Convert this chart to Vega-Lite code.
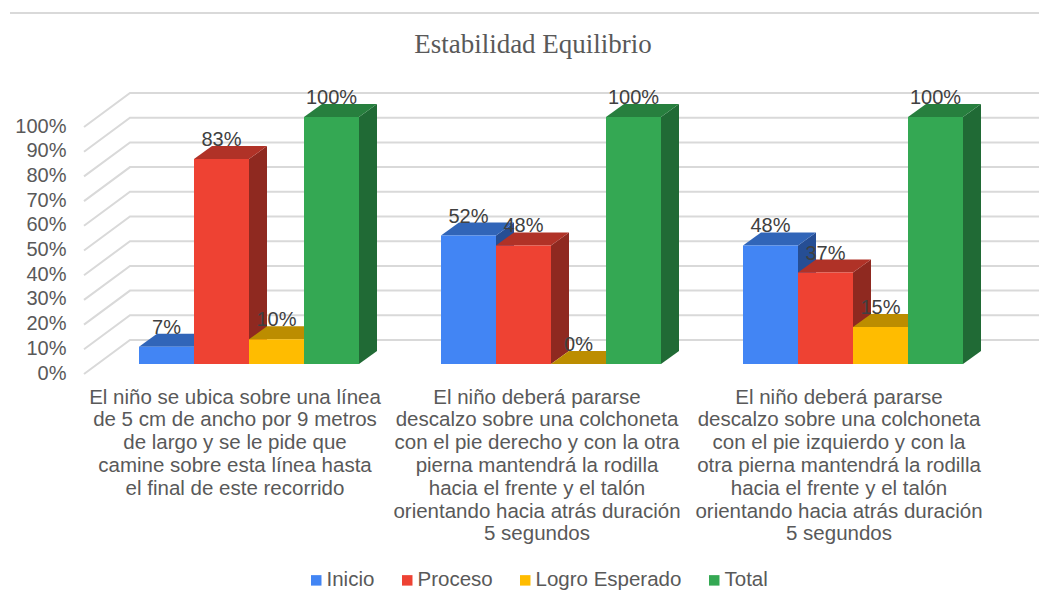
{
"$schema":"https://vega.github.io/schema/vega-lite/v6.json",
"width":906,"height":247,
"autosize":{"type":"none"},
"padding":{"left":98,"top":126,"right":35,"bottom":217},
"background":"white",
"view":{"stroke":null},
"config":{"axis":{"labelOverlap":false},"axisY":{"tickCount":11,"labelOverlap":false}},
"title":{"text":"Estabilidad Equilibrio","anchor":"middle","dx":-18,"offset":-50,"font":"Liberation Serif","fontSize":27,"fontWeight":"normal","color":"#595959"},
"datasets":{
"rows":[
{"P":"El niño se ubica sobre una línea|de 5 cm de ancho por 9 metros|de largo y se le pide que|camine sobre esta línea hasta|el final de este recorrido","Serie":"Inicio","Valor":0.07},
{"P":"El niño se ubica sobre una línea|de 5 cm de ancho por 9 metros|de largo y se le pide que|camine sobre esta línea hasta|el final de este recorrido","Serie":"Proceso","Valor":0.83},
{"P":"El niño se ubica sobre una línea|de 5 cm de ancho por 9 metros|de largo y se le pide que|camine sobre esta línea hasta|el final de este recorrido","Serie":"Logro Esperado","Valor":0.10},
{"P":"El niño se ubica sobre una línea|de 5 cm de ancho por 9 metros|de largo y se le pide que|camine sobre esta línea hasta|el final de este recorrido","Serie":"Total","Valor":1.0},
{"P":"El niño deberá pararse|descalzo sobre una colchoneta|con el pie derecho y con la otra|pierna mantendrá la rodilla|hacia el frente y el talón|orientando hacia atrás duración|5 segundos","Serie":"Inicio","Valor":0.52},
{"P":"El niño deberá pararse|descalzo sobre una colchoneta|con el pie derecho y con la otra|pierna mantendrá la rodilla|hacia el frente y el talón|orientando hacia atrás duración|5 segundos","Serie":"Proceso","Valor":0.48},
{"P":"El niño deberá pararse|descalzo sobre una colchoneta|con el pie derecho y con la otra|pierna mantendrá la rodilla|hacia el frente y el talón|orientando hacia atrás duración|5 segundos","Serie":"Logro Esperado","Valor":0.0},
{"P":"El niño deberá pararse|descalzo sobre una colchoneta|con el pie derecho y con la otra|pierna mantendrá la rodilla|hacia el frente y el talón|orientando hacia atrás duración|5 segundos","Serie":"Total","Valor":1.0},
{"P":"El niño deberá pararse|descalzo sobre una colchoneta|con el pie izquierdo y con la|otra pierna mantendrá la rodilla|hacia el frente y el talón|orientando hacia atrás duración|5 segundos","Serie":"Inicio","Valor":0.48},
{"P":"El niño deberá pararse|descalzo sobre una colchoneta|con el pie izquierdo y con la|otra pierna mantendrá la rodilla|hacia el frente y el talón|orientando hacia atrás duración|5 segundos","Serie":"Proceso","Valor":0.37},
{"P":"El niño deberá pararse|descalzo sobre una colchoneta|con el pie izquierdo y con la|otra pierna mantendrá la rodilla|hacia el frente y el talón|orientando hacia atrás duración|5 segundos","Serie":"Logro Esperado","Valor":0.15},
{"P":"El niño deberá pararse|descalzo sobre una colchoneta|con el pie izquierdo y con la|otra pierna mantendrá la rodilla|hacia el frente y el talón|orientando hacia atrás duración|5 segundos","Serie":"Total","Valor":1.0}
],
"grid":[{"g":0},{"g":0.1},{"g":0.2},{"g":0.3},{"g":0.4},{"g":0.5},{"g":0.6},{"g":0.7},{"g":0.8},{"g":0.9},{"g":1}]
},
"data":{"name":"rows"},
"resolve":{"scale":{"color":"independent"}},
"layer":[
{"data":{"name":"grid"},
 "mark":{"type":"point","shape":"M-55,1 L-9,-33 L900,-33","filled":false,"stroke":"#d9d9d9","strokeWidth":2,"size":4,"opacity":1},
 "encoding":{
  "x":{"datum":"El niño se ubica sobre una línea|de 5 cm de ancho por 9 metros|de largo y se le pide que|camine sobre esta línea hasta|el final de este recorrido","type":"nominal","bandPosition":0,
   "scale":{"paddingInner":0.2715,"paddingOuter":0.13575},"sort":null,
   "axis":{"title":null,"domain":false,"ticks":false,"labelAngle":0,"labelFont":"Liberation Sans","labelFontSize":20.5,"labelColor":"#595959","labelLimit":400,"labelPadding":14,"labelOffset":-14,"labelLineHeight":22.8,"labelBaseline":"top","labelExpr":"split(datum.label,'|')"}},
  "y":{"field":"g","type":"quantitative",
   "scale":{"domain":[0,1],"nice":false},
   "axis":{"title":null,"domain":false,"ticks":false,"grid":false,"tickCount":11,"values":[0,0.1,0.2,0.3,0.4,0.5,0.6,0.7,0.8,0.9,1],"format":".0%","labelFont":"Liberation Sans","labelFontSize":20,"labelColor":"#595959","labelPadding":32,"labelOverlap":false}}
 }},
{"data":{"values":[{"t":1.457}]},
 "mark":{"type":"point","shape":"M-129,0 L900,0","filled":false,"stroke":"#d9d9d9","strokeWidth":2,"size":4,"opacity":1},
 "encoding":{
  "x":{"datum":"El niño se ubica sobre una línea|de 5 cm de ancho por 9 metros|de largo y se le pide que|camine sobre esta línea hasta|el final de este recorrido","type":"nominal","bandPosition":0},
  "y":{"field":"t","type":"quantitative"}
 }},
{"mark":{"type":"point","filled":true,"size":4,"opacity":1,"strokeWidth":0},
 "encoding":{
  "x":{"field":"P","type":"nominal","sort":null},
  "xOffset":{"field":"Serie","type":"nominal","scale":{"domain":["Inicio","Proceso","Logro Esperado","Total"],"paddingInner":0,"paddingOuter":0}},
  "y":{"datum":0,"type":"quantitative"},
  "shape":{"field":"Valor","type":"nominal","legend":null,
   "scale":{"domain":[0,0.07,0.1,0.15,0.37,0.48,0.52,0.83,1],
   "range":[
    "M27.5,-9 L45.5,-22 L45.5,-22 L27.5,-9 Z",
    "M27.5,-9 L45.5,-22 L45.5,-39.3 L27.5,-26.3 Z",
    "M27.5,-9 L45.5,-22 L45.5,-46.7 L27.5,-33.7 Z",
    "M27.5,-9 L45.5,-22 L45.5,-59 L27.5,-46 Z",
    "M27.5,-9 L45.5,-22 L45.5,-113.4 L27.5,-100.4 Z",
    "M27.5,-9 L45.5,-22 L45.5,-140.6 L27.5,-127.6 Z",
    "M27.5,-9 L45.5,-22 L45.5,-150.4 L27.5,-137.4 Z",
    "M27.5,-9 L45.5,-22 L45.5,-227 L27.5,-214 Z",
    "M27.5,-9 L45.5,-22 L45.5,-269 L27.5,-256 Z"]}},
  "color":{"field":"Serie","type":"nominal","legend":null,"scale":{"domain":["Inicio","Proceso","Logro Esperado","Total"],"range":["#264E94","#8F2920","#9A7300","#206A35"]}}
 }},
{"mark":{"type":"point","filled":true,"size":4,"opacity":1,"strokeWidth":0,"shape":"M-27.5,-9 L27.5,-9 L45.5,-22 L-9.5,-22 Z"},
 "encoding":{
  "x":{"field":"P","type":"nominal","sort":null},
  "xOffset":{"field":"Serie","type":"nominal"},
  "y":{"field":"Valor","type":"quantitative"},
  "color":{"field":"Serie","type":"nominal","legend":null,"scale":{"domain":["Inicio","Proceso","Logro Esperado","Total"],"range":["#3165B8","#B03227","#BC8D00","#277F3E"]}}
 }},
{"mark":{"type":"bar","yOffset":-9,"y2Offset":-9,"width":55},
 "encoding":{
  "x":{"field":"P","type":"nominal","sort":null},
  "xOffset":{"field":"Serie","type":"nominal"},
  "y":{"field":"Valor","type":"quantitative"},
  "color":{"field":"Serie","type":"nominal",
   "scale":{"domain":["Inicio","Proceso","Logro Esperado","Total"],"range":["#4285F4","#EE4233","#FFBC00","#34A853"]},
   "legend":{"title":null,"orient":"none","legendX":208,"legendY":444,"direction":"horizontal","columns":4,"symbolType":"square","symbolSize":110,"labelFont":"Liberation Sans","labelFontSize":20.5,"labelOffset":0,"labelColor":"#595959","columnPadding":22,"labelLimit":300,"symbolStrokeWidth":0}}
 }},
{"mark":{"type":"text","font":"Liberation Sans","fontSize":20,"color":"#404040","yOffset":-28,"baseline":"middle"},
 "encoding":{
  "x":{"field":"P","type":"nominal","sort":null},
  "xOffset":{"field":"Serie","type":"nominal"},
  "y":{"field":"Valor","type":"quantitative"},
  "text":{"field":"Valor","type":"quantitative","format":".0%"}
 }}
]
}
